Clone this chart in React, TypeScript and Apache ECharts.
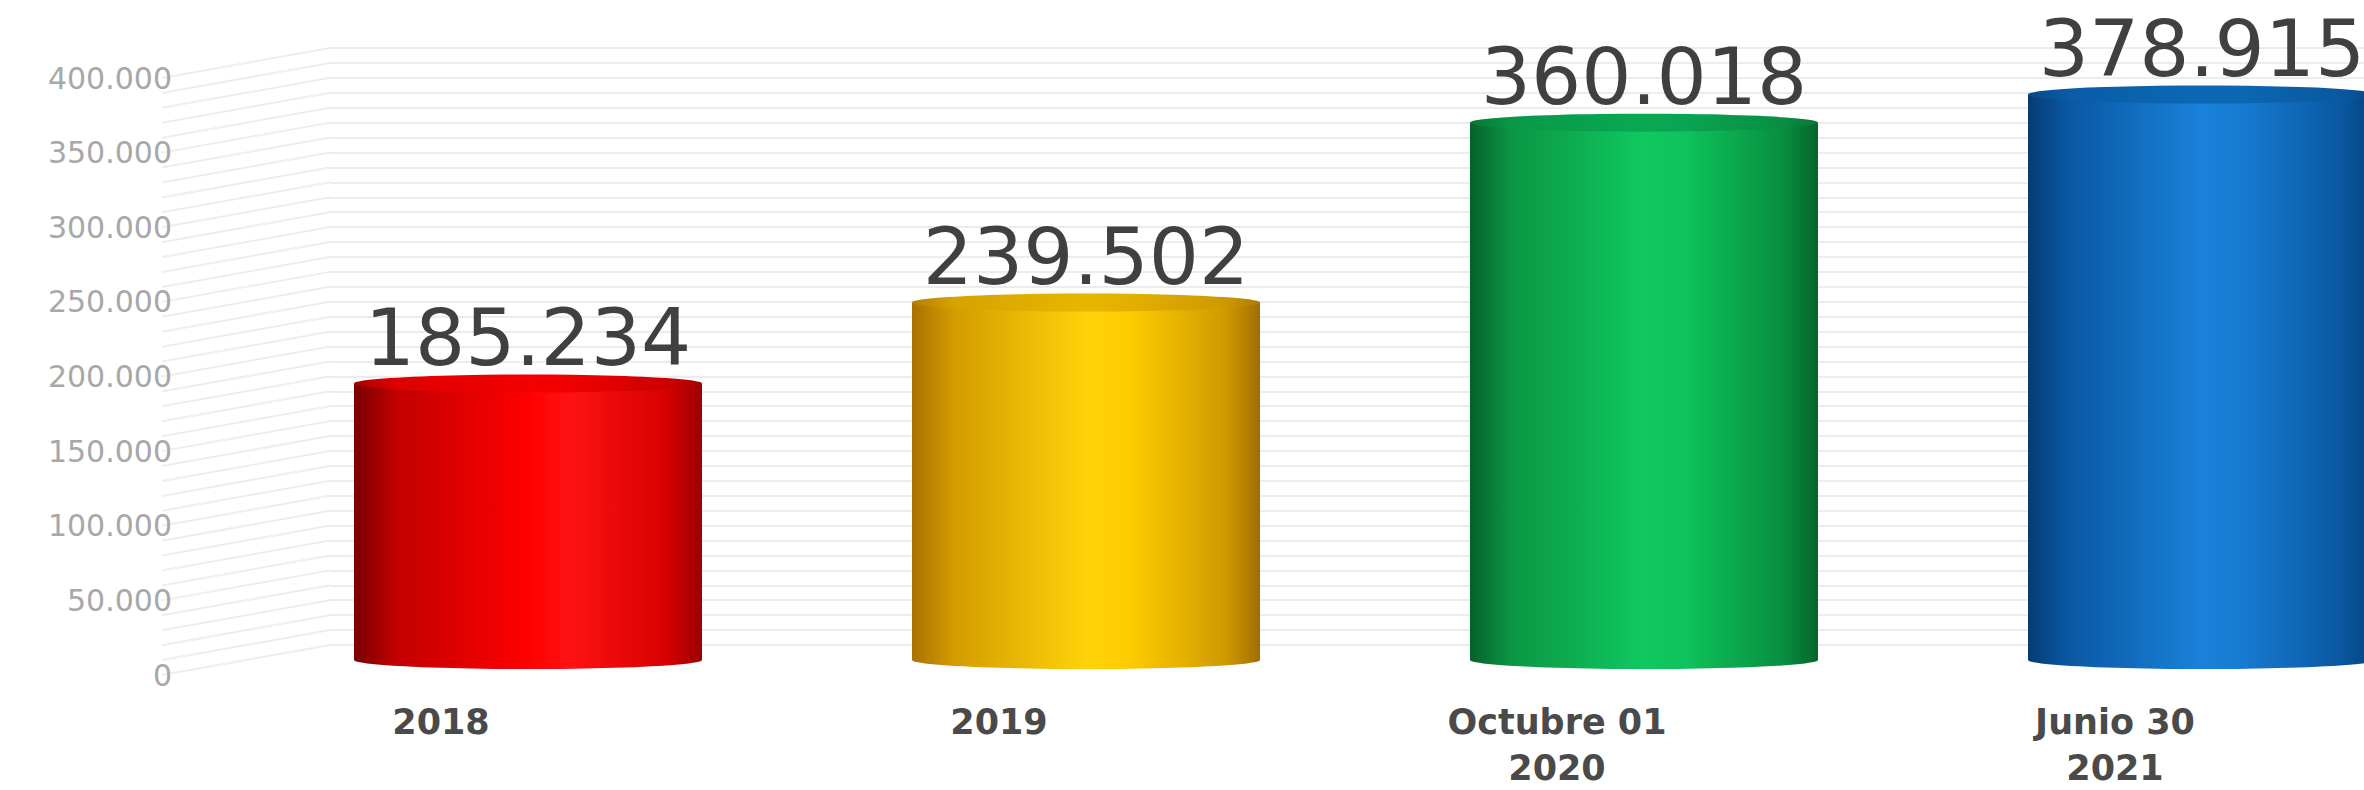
import React, { useEffect, useRef } from 'react';
import * as echarts from 'echarts';

// ---- data ----
const categories = ['2018', '2019', 'Octubre 01\n2020', 'Junio 30\n2021'];
const values = [185234, 239502, 360018, 378915];
const yMin = 0;
const yMax = 400000;
const yLabelStep = 50000;
const wallStep = 10000;

// cylinder colours (left edge -> highlight -> right edge)
const bodyColors = [
  ['#780000', '#c20000', '#ff0000', '#ff1212', '#d60000', '#9c0000'],
  ['#a87200', '#d49c00', '#ffd20a', '#ffcc00', '#d09a00', '#a06e00'],
  ['#05622a', '#0a9644', '#10c860', '#0ec25c', '#088e40', '#05642c'],
  ['#063c74', '#0a58a4', '#1a82da', '#167ad0', '#0a58a0', '#06427e'],
];
const capColors = [
  ['#a80000', '#dc0000', '#f40000', '#f00000', '#cc0000', '#a80000'],
  ['#b48000', '#d6a200', '#e8b600', '#e4b000', '#cc9a00', '#ac7c00'],
  ['#067632', '#089848', '#0aa852', '#0aa450', '#088e44', '#067632'],
  ['#06488a', '#0a5ca6', '#0c68b4', '#0c66b0', '#0a58a0', '#064886'],
];

const stops = [0, 0.12, 0.5, 0.62, 0.9, 1];
const grad = (cols: string[]) =>
  new echarts.graphic.LinearGradient(
    0, 0, 1, 0,
    cols.map((c, i) => ({ offset: stops[i], color: c }))
  );

const fmt = (v: number) => String(v).replace(/\B(?=(\d{3})+(?!\d))/g, '.');

const GRID_W = 2232;
const GRID_H = 597;
const BAR_W = 348;
const CAP_H = 18;
const DEPTH_X = 168;
const DEPTH_Y = -30;

export default function App() {
  const ref = useRef<HTMLDivElement>(null);

  useEffect(() => {
    if (!ref.current) return;
    const chart = echarts.init(ref.current, undefined, { renderer: 'svg' });

    const option: any = {
      animation: false,
      backgroundColor: '#ffffff',
      grid: [
        { left: 162 + DEPTH_X, top: 78 + DEPTH_Y, width: GRID_W, height: GRID_H, outerBoundsMode: 'none', containLabel: false }, // back wall
        { left: 162, top: 78, width: GRID_W, height: GRID_H, outerBoundsMode: 'none', containLabel: false }, // front (labels)
        { left: 162 + DEPTH_X / 2 + 3, top: 78 + DEPTH_Y / 2, width: GRID_W, height: GRID_H, outerBoundsMode: 'none', containLabel: false }, // bars
      ],
      xAxis: [
        { gridIndex: 0, type: 'category', data: categories, show: false },
        {
          gridIndex: 1,
          type: 'category',
          data: categories,
          axisLine: { show: false },
          axisTick: { show: false },
          axisLabel: {
            margin: 24,
            fontFamily: 'DejaVu Sans',
            fontWeight: 'bold',
            fontSize: 35,
            lineHeight: 46,
            color: '#4a4a4a',
            interval: 0,
          },
        },
        { gridIndex: 2, type: 'category', data: categories, show: false },
      ],
      yAxis: [
        {
          gridIndex: 0,
          type: 'value',
          min: yMin,
          max: yMax,
          interval: wallStep,
          axisLabel: { show: false },
          axisLine: { show: false },
          axisTick: { show: false },
          splitLine: { show: true, lineStyle: { color: '#ececec', width: 2 } },
        },
        {
          gridIndex: 1,
          type: 'value',
          min: yMin,
          max: yMax,
          interval: yLabelStep,
          axisLine: { show: false },
          axisTick: { show: false },
          splitLine: { show: false },
          axisLabel: {
            margin: -10,
            formatter: (v: number) => fmt(v),
            fontFamily: 'DejaVu Sans',
            fontSize: 30,
            color: '#a8a8a8',
          },
        },
        { gridIndex: 2, type: 'value', min: yMin, max: yMax, show: false },
      ],
      series: [
        {
          type: 'custom',
          name: 'sideWall',
          xAxisIndex: 1,
          yAxisIndex: 1,
          silent: true,
          z: 0,
          data: [[0, 0]],
          renderItem: (params: any, api: any) => {
            const cs = params.coordSys;
            const children: any[] = [];
            for (let v = yMin; v <= yMax; v += wallStep) {
              const y = api.coord([0, v])[1];
              children.push({
                type: 'line',
                shape: { x1: cs.x, y1: y, x2: cs.x + DEPTH_X, y2: y + DEPTH_Y },
                style: { stroke: '#eeeeee', lineWidth: 2 },
              });
            }
            return { type: 'group', children };
          },
        },
        {
          type: 'pictorialBar',
          name: 'base',
          xAxisIndex: 2,
          yAxisIndex: 2,
          symbol: 'circle',
          symbolSize: [BAR_W, CAP_H],
          symbolOffset: [0, '50%'],
          barWidth: BAR_W,
          barGap: '-100%',
          silent: true,
          z: 2,
          data: values.map((v, i) => ({ value: v, itemStyle: { color: grad(bodyColors[i]) } })),
        },
        {
          type: 'bar',
          name: 'value',
          xAxisIndex: 2,
          yAxisIndex: 2,
          barWidth: BAR_W,
          z: 3,
          data: values.map((v, i) => ({ value: v, itemStyle: { color: grad(bodyColors[i]) } })),
          label: {
            show: true,
            position: 'top',
            distance: 6,
            formatter: (p: any) => fmt(p.value),
            fontFamily: 'DejaVu Sans',
            fontSize: 79,
            lineHeight: 79,
            color: '#404040',
          },
        },
        {
          type: 'pictorialBar',
          name: 'cap',
          xAxisIndex: 2,
          yAxisIndex: 2,
          symbol: 'circle',
          symbolSize: [BAR_W, CAP_H],
          symbolPosition: 'end',
          symbolOffset: [0, '-50%'],
          barWidth: BAR_W,
          barGap: '-100%',
          silent: true,
          z: 4,
          data: values.map((v, i) => ({ value: v, itemStyle: { color: grad(capColors[i]) } })),
        },
      ],
    };

    chart.setOption(option);
    return () => chart.dispose();
  }, []);

  return (
    <div
      ref={ref}
      style={{ position: 'fixed', left: 0, top: 0, width: 2364, height: 790, background: '#fff' }}
    />
  );
}
